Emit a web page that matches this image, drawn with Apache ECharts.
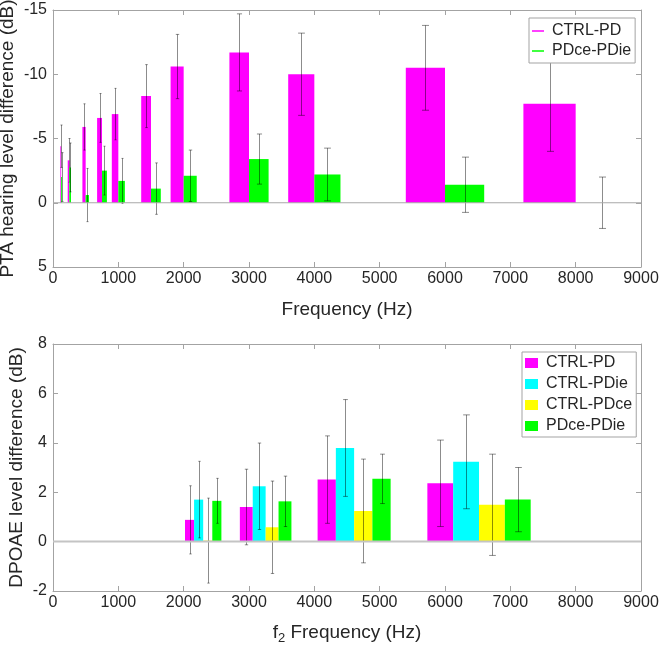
<!DOCTYPE html>
<html><head><meta charset="utf-8">
<script src="https://cdn.jsdelivr.net/npm/echarts@6/dist/echarts.min.js"></script>
<style>html,body{margin:0;padding:0;background:#fff}#c{width:660px;height:649px}</style>
</head><body><div id="c"></div>
<script>
// ---- Top panel: PTA hearing level difference ----
const ptaFreq = [125, 250, 500, 750, 1000, 1500, 2000, 3000, 4000, 6000, 8000];
const ptaCtrlPd = [-4.4, -3.3, -5.9, -6.6, -6.9, -8.3, -10.6, -11.7, -10.0, -10.5, -7.7];
const ptaCtrlPdErr = [1.65, 1.7, 1.8, 1.9, 2.0, 2.45, 2.5, 3.0, 3.2, 3.3, 3.7];
const ptaPdcePdie = [-2.0, -2.75, -0.6, -2.5, -1.7, -1.1, -2.1, -3.4, -2.2, -1.4, 0];
const ptaPdcePdieErr = [1.9, 1.9, 2.07, 1.9, 1.75, 2.0, 2.0, 1.95, 2.05, 2.15, 2.0];
const ptaTicksY = [-15, -10, -5, 0, 5];

// ---- Bottom panel: DPOAE level difference ----
const dpFreq = [2020, 2860, 4050, 5730];
const dpCtrlPd = [0.88, 1.40, 2.51, 2.36];
const dpCtrlPdErr = [1.38, 1.53, 1.77, 1.75];
const dpCtrlPdie = [1.70, 2.24, 3.79, 3.23];
const dpCtrlPdieErr = [1.55, 1.75, 1.96, 1.90];
const dpCtrlPdce = [0.04, 0.58, 1.24, 1.49];
const dpCtrlPdceErr = [1.72, 1.87, 2.10, 2.05];
const dpPdcePdie = [1.65, 1.63, 2.54, 1.70];
const dpPdcePdieErr = [0.91, 1.02, 1.00, 1.30];
const dpTicksY = [-2, 0, 2, 4, 6, 8];

const freqTicks = [0, 1000, 2000, 3000, 4000, 5000, 6000, 7000, 8000, 9000];

const TXT = '#262626', AX = '#a3a3a3', FONT = '"Liberation Sans", Arial, sans-serif';
const C = {pd: '#ff00ff', pdie: '#00ffff', pdce: '#ffff00', g: '#00ff00'};

function renderBarErr(params, api) {
  const x0 = api.value(0), x1 = api.value(1), v = api.value(2), e = api.value(3);
  const a = api.coord([x0, 0]), b = api.coord([x1, v]);
  const xm = (x0 + x1) / 2;
  const t = api.coord([xm, v + e]), d = api.coord([xm, v - e]);
  const w = Math.abs(b[0] - a[0]);
  const cw = Math.max(1, Math.min(3.5, w * 0.13));
  const xc = Math.round(t[0]) + 0.5;
  const es = {stroke: 'rgba(0,0,0,0.45)', lineWidth: 1};
  return {type: 'group', children: [
    {type: 'rect', shape: {x: Math.min(a[0], b[0]), y: Math.min(a[1], b[1]), width: w, height: Math.abs(b[1] - a[1])},
     style: {fill: api.visual('color')}},
    {type: 'line', shape: {x1: xc, y1: t[1], x2: xc, y2: d[1]}, style: es},
    {type: 'line', shape: {x1: xc - cw, y1: t[1], x2: xc + cw, y2: t[1]}, style: es},
    {type: 'line', shape: {x1: xc - cw, y1: d[1], x2: xc + cw, y2: d[1]}, style: es}
  ]};
}

function ptaData(vals, errs, side) {
  return ptaFreq.map((f, i) => side < 0 ? [0.9 * f, f, vals[i], errs[i]] : [f, 1.1 * f, vals[i], errs[i]]);
}
function dpData(vals, errs, k) {
  const r = 0.069;
  return dpFreq.map((f, i) => [f * (1 + r * k), f * (1 + r * (k + 1)), vals[i], errs[i]]);
}
function custom(name, color, data, gi) {
  return {type: 'custom', name, xAxisIndex: gi * 2, yAxisIndex: gi * 2, itemStyle: {color},
    renderItem: renderBarErr, data, encode: {x: [0, 1], y: [2]}, silent: true, z: 2};
}
function xAx(gi, pos, extra) {
  return Object.assign({gridIndex: gi, type: 'value', min: freqTicks[0], max: freqTicks[freqTicks.length - 1],
    interval: freqTicks[1] - freqTicks[0], position: pos,
    axisLine: {show: true, onZero: false, lineStyle: {color: AX, width: 1}},
    axisTick: {show: true, inside: true, length: 5, lineStyle: {color: AX}},
    axisLabel: {show: pos === 'bottom', color: TXT, fontSize: 16, fontFamily: FONT, margin: 4,
      formatter: v => String(v)},
    splitLine: {show: false}}, extra || {});
}
function yAx(gi, pos, min, max, iv, extra) {
  return Object.assign({gridIndex: gi, type: 'value', min, max, interval: iv, position: pos,
    axisLine: {show: true, onZero: false, lineStyle: {color: AX, width: 1}},
    axisTick: {show: true, inside: true, length: 5, lineStyle: {color: AX}},
    axisLabel: {show: pos === 'left', color: TXT, fontSize: 16, fontFamily: FONT, margin: 6,
      formatter: v => String(v)},
    splitLine: {show: false}}, extra || {});
}
const nameStyle = {color: TXT, fontSize: 19, fontFamily: FONT};

const option = {
  animation: false,
  backgroundColor: '#fff',
  textStyle: {fontFamily: FONT},
  grid: [
    {left: 53, top: 10, width: 588, height: 257, containLabel: false, outerBoundsMode: 'none'},
    {left: 53, top: 344, width: 588, height: 247, containLabel: false, outerBoundsMode: 'none'}
  ],
  xAxis: [
    xAx(0, 'bottom', {name: 'Frequency (Hz)', nameLocation: 'middle', nameGap: 33, nameTextStyle: nameStyle}),
    xAx(0, 'top'),
    xAx(1, 'bottom', {name: '{a|f}{s|2}{a| Frequency (Hz)}', nameLocation: 'middle', nameGap: 29,
      nameTextStyle: {color: TXT, fontFamily: FONT, rich: {
        a: {fontSize: 19, color: TXT, fontFamily: FONT},
        s: {fontSize: 13, color: TXT, fontFamily: FONT, padding: [12, 0, 0, 0]}}}}),
    xAx(1, 'top')
  ],
  yAxis: [
    yAx(0, 'left', ptaTicksY[0], ptaTicksY[ptaTicksY.length - 1], 5,
      {inverse: true, name: 'PTA hearing level difference (dB)', nameLocation: 'middle', nameGap: 36,
       nameMoveOverlap: false, nameTextStyle: nameStyle}),
    yAx(0, 'right', ptaTicksY[0], ptaTicksY[ptaTicksY.length - 1], 5, {inverse: true}),
    yAx(1, 'left', dpTicksY[0], dpTicksY[dpTicksY.length - 1], 2,
      {name: 'DPOAE level difference (dB)', nameLocation: 'middle', nameGap: 27,
       nameMoveOverlap: false, nameTextStyle: nameStyle}),
    yAx(1, 'right', dpTicksY[0], dpTicksY[dpTicksY.length - 1], 2)
  ],
  legend: [
    {data: ['CTRL-PD', 'PDce-PDie'], orient: 'vertical', left: 529, top: 18, icon: 'rect',
     itemWidth: 12, itemHeight: 1.5, itemGap: 4, padding: [5, 4, 4, 3],
     borderColor: '#a3a3a3', borderWidth: 1, backgroundColor: '#fff', selectedMode: false,
     textStyle: {color: TXT, fontSize: 16, fontFamily: FONT, padding: [0, 0, 0, 3]}},
    {data: ['CTRL-PD', 'CTRL-PDie', 'CTRL-PDce', 'PDce-PDie'], orient: 'vertical', left: 522, top: 352, icon: 'rect',
     itemWidth: 13, itemHeight: 10, itemGap: 5, padding: [3, 4, 3, 3],
     borderColor: '#a3a3a3', borderWidth: 1, backgroundColor: '#fff', selectedMode: false,
     textStyle: {color: TXT, fontSize: 16, fontFamily: FONT, padding: [0, 0, 0, 3]}}
  ],
  series: [
    {type: 'line', xAxisIndex: 0, yAxisIndex: 0, data: [[0, 0], [9000, 0]], symbol: 'none', silent: true,
     lineStyle: {color: '#a8a8a8', width: 1.2}, z: 3},
    {type: 'line', xAxisIndex: 2, yAxisIndex: 2, data: [[0, 0], [9000, 0]], symbol: 'none', silent: true,
     lineStyle: {color: '#c4c4c4', width: 2}, z: 3},
    custom('CTRL-PD', C.pd, ptaData(ptaCtrlPd, ptaCtrlPdErr, -1), 0),
    custom('PDce-PDie', C.g, ptaData(ptaPdcePdie, ptaPdcePdieErr, 1), 0),
    custom('CTRL-PD', C.pd, dpData(dpCtrlPd, dpCtrlPdErr, 0), 1),
    custom('CTRL-PDie', C.pdie, dpData(dpCtrlPdie, dpCtrlPdieErr, 1), 1),
    custom('CTRL-PDce', C.pdce, dpData(dpCtrlPdce, dpCtrlPdceErr, 2), 1),
    custom('PDce-PDie', C.g, dpData(dpPdcePdie, dpPdcePdieErr, 3), 1)
  ]
};
const chart = echarts.init(document.getElementById('c'), null, {renderer: 'canvas'});
chart.setOption(option);
</script>
</body></html>
